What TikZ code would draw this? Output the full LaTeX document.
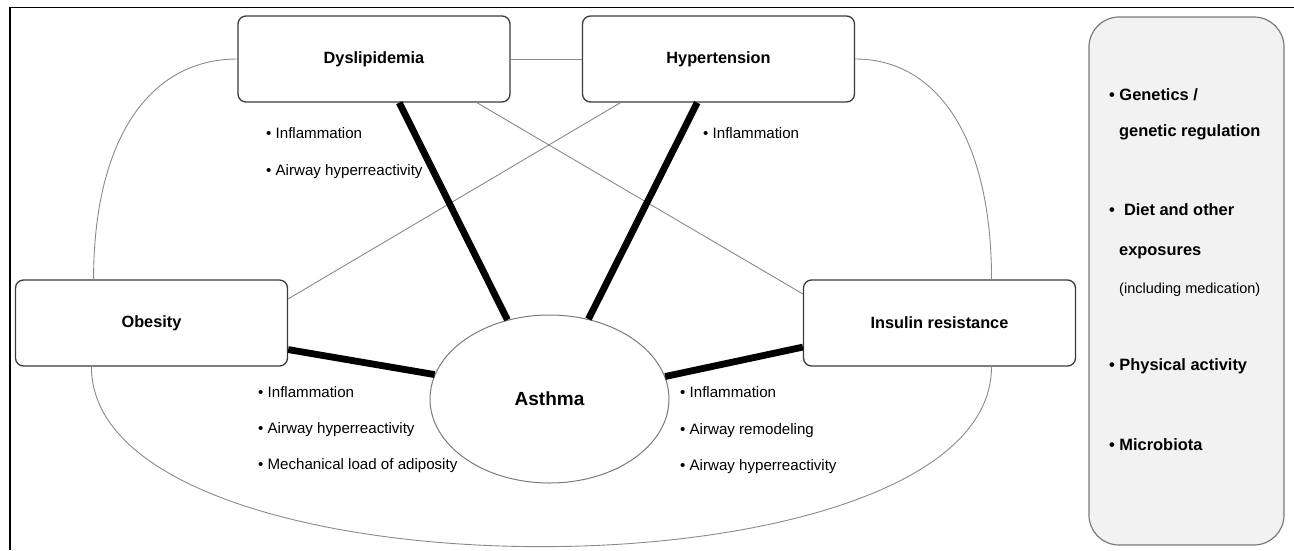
\documentclass[tikz,border=0pt]{standalone}
\usepackage{fontspec}
\setmainfont{Liberation Sans}
\usetikzlibrary{shapes.geometric}
\definecolor{boxline}{HTML}{3A3A3A}
\definecolor{thinline}{HTML}{8A8A8A}
\definecolor{factfill}{HTML}{F2F2F2}
\definecolor{factline}{HTML}{7A7A7A}
\begin{document}
\begin{tikzpicture}[x=1pt,y=-1pt,
  box/.style={draw=boxline, line width=1.3pt, rounded corners=8pt, minimum width=272pt, minimum height=86pt, inner sep=0pt, font=\fontsize{16.3}{19}\selectfont\bfseries},
  asthma/.style={ellipse, draw=factline, line width=1pt, minimum width=239pt, minimum height=168pt, inner sep=0pt, font=\fontsize{19}{22}\selectfont\bfseries},
  bul/.style={anchor=base west, inner sep=0pt, font=\fontsize{15.1}{17}\selectfont},
  fact/.style={anchor=base west, inner sep=0pt, font=\fontsize{16.4}{19}\selectfont\bfseries},
  factsmall/.style={anchor=base west, inner sep=0pt, font=\fontsize{14.5}{17}\selectfont},
  thickline/.style={line width=6.8pt, black},
  thinlink/.style={line width=0.9pt, thinline},
  frameline/.style={line width=1.3pt, black},
]
\useasboundingbox (0,0) rectangle (1294,550);

% frame
\draw[frameline] (1294,7.5) -- (10,7.5) -- (10,550);

% factor box
\node[draw=factline, fill=factfill, line width=1.2pt, rounded corners=30pt, minimum width=195pt, minimum height=528pt, inner sep=0pt] (fac) at (1186.5,281) {};

% main nodes
\node[box] (dys) at (374,59) {Dyslipidemia};
\node[box] (hyp) at (718.5,59) {Hypertension};
\node[box] (obe) at (151.5,323) {Obesity};
\node[box] (ins) at (939.5,323) {Insulin resistance};
\node[asthma] (ast) at (549.5,399) {Asthma};

% thin links
\draw[thinlink] (dys.east) -- (hyp.west);
\draw[thinlink] (dys.-23.3) -- (ins.168.4);
\draw[thinlink] (hyp.-156.2) -- (obe.10.9);

% outer curves
\draw[thinlink] (dys.west) .. controls +(-88,0) and +(0,-140) .. (obe.143.2);
\draw[thinlink] (hyp.east) .. controls +(83,0) and +(0,-140) .. (ins.40.4);
\draw[thinlink] (obe.216.8) .. controls +(0,240) and +(0,240) .. (ins.-40.4);

% thick links
\draw[thickline] (dys.-60.8) -- (ast.118.8);
\draw[thickline] (hyp.-116.6) -- (ast.64.8);
\draw[thickline] (obe.-11.3) -- (ast.168.8);
\draw[thickline] (ins.-170) -- (ast.11.7);

% mechanism texts
\node[bul] (d1) at (266,138) {• Inflammation};
\node[bul] (d2) at (266,175) {• Airway hyperreactivity};
\node[bul] (h1) at (703,138) {• Inflammation};
\node[bul] (o1) at (258,397) {• Inflammation};
\node[bul] (o2) at (258,433) {• Airway hyperreactivity};
\node[bul] (o3) at (258,469) {• Mechanical load of adiposity};
\node[bul] (i1) at (680,397) {• Inflammation};
\node[bul] (i2) at (680,434) {• Airway remodeling};
\node[bul] (i3) at (680,470) {• Airway hyperreactivity};

% factor texts
\node[fact] (f1) at (1109,100) {• Genetics /};
\node[fact] (f2) at (1119,136) {genetic regulation};
\node[fact] (f3) at (1109,215) {•\hspace{4.5pt} Diet and other};
\node[fact] (f4) at (1119,255) {exposures};
\node[factsmall] (f5) at (1119,293) {(including medication)};
\node[fact] (f6) at (1109,370) {• Physical activity};
\node[fact] (f7) at (1109,450) {• Microbiota};
\end{tikzpicture}
\end{document}
